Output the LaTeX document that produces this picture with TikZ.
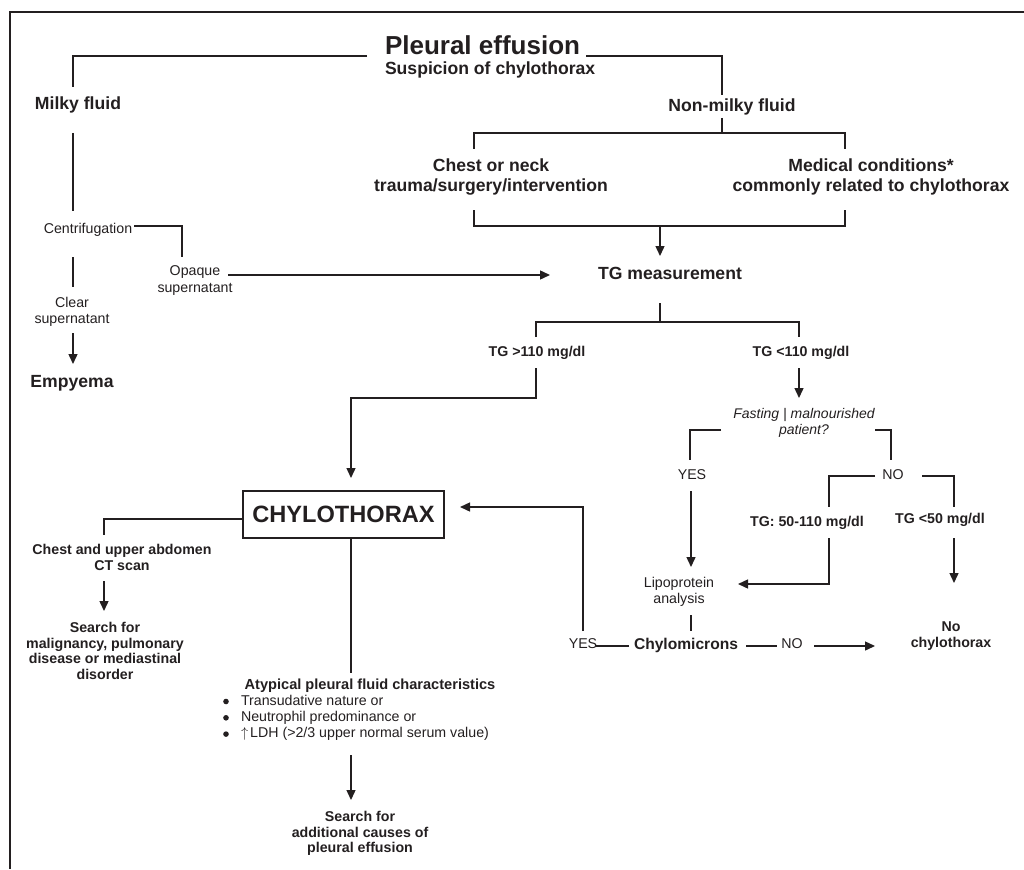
\documentclass[tikz,border=0pt]{standalone}
\usepackage{fontspec}
\setmainfont{Liberation Sans}
\usetikzlibrary{arrows.meta}
\definecolor{ink}{HTML}{231F20}
\begin{document}
\begin{tikzpicture}[x=1pt,y=-1pt,
 every node/.style={inner sep=0pt,outer sep=0pt,text=ink,anchor=north},
 hA/.style={font=\bfseries\fontsize{26}{30}\selectfont},
 hB/.style={font=\bfseries\fontsize{17.6}{20}\selectfont,align=center},
 hC/.style={font=\bfseries\fontsize{14.2}{15.8}\selectfont,align=center},
 rg/.style={font=\fontsize{14.2}{16.3}\selectfont,align=center},
 itl/.style={font=\itshape\fontsize{14}{16}\selectfont,align=center},
 conn/.style={draw=ink,line width=1.4pt},
 arr/.style={conn,-{Triangle[length=10pt,width=9pt]}},
 dot/.style={fill=ink},
]
\useasboundingbox (0,0) rectangle (1024,869);
% frame
\draw[conn] (1024,12) -- (10,12) -- (10,869);

% nodes
\node[hA,anchor=north west] (title) at (385,36) {Pleural effusion};
\node[hB,anchor=north west] (sub) at (385,62) {Suspicion of chylothorax};
\node[hB] (milky) at (78,97) {Milky fluid};
\node[hB] (nonmilky) at (732,99) {Non-milky fluid};
\node[hB] (chest) at (491,159) {Chest or neck\\trauma/surgery/intervention};
\node[hB] (medical) at (871,159) {Medical conditions*\\commonly related to chylothorax};
\node[rg] (centri) at (88,223) {Centrifugation};
\node[rg] (opaque) at (195,266) {Opaque\\supernatant};
\node[rg] (clear) at (72,297) {Clear\\supernatant};
\node[hB] (empyema) at (72,375) {Empyema};
\node[hB] (tgm) at (670,267) {TG measurement};
\node[hC] (tggt) at (537,346) {TG >110 mg/dl};
\node[hC] (tglt) at (801,346) {TG <110 mg/dl};
\node[itl] (fasting) at (804,408) {Fasting | malnourished\\patient?};
\node[rg] (yesA) at (692,470) {YES};
\node[rg] (noA) at (893,470) {NO};
\node[hC] (tgmid) at (807,516) {TG: 50-110 mg/dl};
\node[hC] (tglow) at (940,513) {TG <50 mg/dl};
\node[rg] (lipo) at (679,577) {Lipoprotein\\analysis};
\node[font=\bfseries\fontsize{15.6}{18}\selectfont] (chylo) at (686,638) {Chylomicrons};
\node[rg] (yesB) at (583,639) {YES};
\node[rg] (noB) at (792,639) {NO};
\node[hC] (nochylo) at (951,622) {No\\chylothorax};
\node[draw=ink,line width=1.4pt,minimum width=201pt,minimum height=47pt,anchor=center,
      font=\bfseries\fontsize{23.6}{26}\selectfont] (box) at (343.5,514.5) {CHYLOTHORAX};
\node[hC] (ct) at (122,544) {Chest and upper abdomen\\CT scan};
\node[hC] (searchA) at (105,622) {Search for\\malignancy, pulmonary\\disease or mediastinal\\disorder};
\node[hC,font=\bfseries\fontsize{14.6}{16}\selectfont] (atyp) at (370,679) {Atypical pleural fluid characteristics};
\node[rg,align=left,anchor=north west] (bul) at (241,695)
  {Transudative nature or\\
   Neutrophil predominance or\\
   $\uparrow$\hspace{2pt}LDH (>2/3 upper normal serum value)};
\fill[dot] ([xshift=-15pt,yshift=-6.5pt]bul.north west) circle (2.8pt);
\fill[dot] ([xshift=-15pt,yshift=-22.8pt]bul.north west) circle (2.8pt);
\fill[dot] ([xshift=-15pt,yshift=-39.1pt]bul.north west) circle (2.8pt);
\node[hC] (searchB) at (360,811) {Search for\\additional causes of\\pleural effusion};

% connectors
\draw[conn] ([xshift=-18pt,yshift=-1pt]title.base west) -| ([xshift=-5pt,yshift=10pt]milky.north);
\draw[conn] ([xshift=6pt,yshift=-1pt]title.base east) -| ([xshift=-10pt,yshift=4pt]nonmilky.north);
\draw[conn] ([xshift=-5pt,yshift=-36pt]milky.north) -- ([xshift=-15pt,yshift=12pt]centri.north);
\draw[conn] ([xshift=46pt,yshift=-3pt]centri.north) -| ([xshift=-13pt,yshift=9pt]opaque.north);
\draw[conn] ([xshift=-15pt,yshift=-34pt]centri.north) -- ([xshift=1pt,yshift=10pt]clear.north);
\draw[arr] ([xshift=1pt,yshift=-36pt]clear.north) -- ([xshift=1pt,yshift=11pt]empyema.north);
\draw[arr] ([xshift=33pt,yshift=-9pt]opaque.north) -- ([xshift=-120pt,yshift=-8pt]tgm.north);

\draw[conn] ([xshift=-10pt,yshift=-19pt]nonmilky.north) -- ([xshift=-10pt,yshift=-34pt]nonmilky.north);
\draw[conn] ([xshift=-17pt,yshift=10pt]chest.north) -- ([xshift=-17pt,yshift=26pt]chest.north)
   -- ([xshift=-26pt,yshift=26pt]medical.north) -- ([xshift=-26pt,yshift=10pt]medical.north);
\draw[conn] ([xshift=-17pt,yshift=-51pt]chest.north) -- ([xshift=-17pt,yshift=-67pt]chest.north)
   -- ([xshift=-26pt,yshift=-67pt]medical.north) -- ([xshift=-26pt,yshift=-51pt]medical.north);
\draw[arr] ([xshift=-10pt,yshift=41pt]tgm.north) -- ([xshift=-10pt,yshift=11pt]tgm.north);

\draw[conn] ([xshift=-10pt,yshift=-36pt]tgm.north) -- ([xshift=-10pt,yshift=-55pt]tgm.north);
\draw[conn] ([xshift=-1pt,yshift=9pt]tggt.north) -- ([xshift=-1pt,yshift=24pt]tggt.north)
   -- ([xshift=-2pt,yshift=24pt]tglt.north) -- ([xshift=-2pt,yshift=9pt]tglt.north);
\draw[arr] ([xshift=-1pt,yshift=-22pt]tggt.north) -- ([xshift=-1pt,yshift=-52pt]tggt.north)
   -| ([xshift=7.5pt,yshift=13pt]box.north);
\draw[arr] ([xshift=-2pt,yshift=-22pt]tglt.north) -- ([xshift=-5pt,yshift=10pt]fasting.north);

\draw[conn] ([xshift=-83pt,yshift=-22pt]fasting.north) -| ([xshift=-2pt,yshift=10pt]yesA.north);
\draw[conn] ([xshift=71pt,yshift=-22pt]fasting.north) -| ([xshift=-2pt,yshift=10pt]noA.north);
\draw[arr] ([xshift=-1pt,yshift=-21pt]yesA.north) -- ([xshift=12pt,yshift=10pt]lipo.north);
\draw[conn] ([xshift=-18pt,yshift=-6pt]noA.north) -| ([xshift=22pt,yshift=9pt]tgmid.north);
\draw[conn] ([xshift=29pt,yshift=-6pt]noA.north) -| ([xshift=14pt,yshift=6pt]tglow.north);
\draw[arr] ([xshift=22pt,yshift=-22pt]tgmid.north) |- ([xshift=59pt,yshift=-7pt]lipo.north);
\draw[arr] ([xshift=14pt,yshift=-25pt]tglow.north) -- ([xshift=3pt,yshift=39pt]nochylo.north);

\draw[conn] ([xshift=12pt,yshift=-38pt]lipo.north) -- ([xshift=5pt,yshift=7pt]chylo.north);
\draw[conn] ([xshift=-57pt,yshift=-8pt]chylo.north) -- ([xshift=13pt,yshift=-7pt]yesB.north);
\draw[arr] ([yshift=8pt]yesB.north) |- ([xshift=16pt,yshift=7.5pt]box.east);
\draw[conn] ([xshift=60pt,yshift=-8pt]chylo.north) -- ([xshift=-15pt,yshift=-7pt]noB.north);
\draw[arr] ([xshift=22pt,yshift=-7pt]noB.north) -- ([xshift=-76pt,yshift=-24pt]nochylo.north);

\draw[conn] ([yshift=-4.5pt]box.west) -| ([xshift=-18pt,yshift=9pt]ct.north);
\draw[arr] ([xshift=-18pt,yshift=-37pt]ct.north) -- ([xshift=-1pt,yshift=11pt]searchA.north);
\draw[conn] ([xshift=7.5pt]box.south) -- ([xshift=-19pt,yshift=6pt]atyp.north);
\draw[arr] ([xshift=110pt,yshift=-60pt]bul.north west) -- ([xshift=-9pt,yshift=11pt]searchB.north);
\end{tikzpicture}
\end{document}
